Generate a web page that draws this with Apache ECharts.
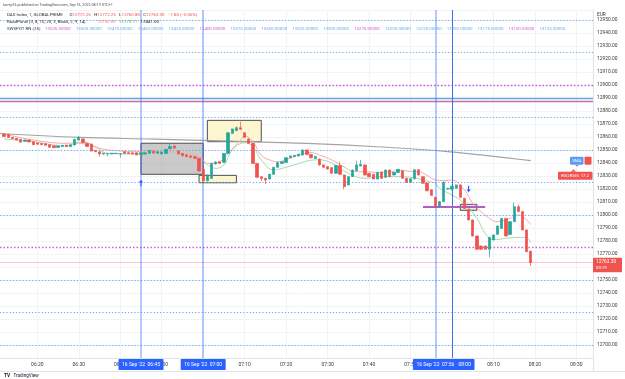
<!DOCTYPE html>
<html><head><meta charset="utf-8">
<script src="https://cdn.jsdelivr.net/npm/echarts@6/dist/echarts.min.js"></script>
<style>html,body{margin:0;padding:0;background:#fff}#c{width:625px;height:379px}</style>
</head><body><div id="c"></div><script>
// ---------- data ----------
const categoryStart = '06:11';
const categoryCount = 144;
const firstCandle = '06:12';
// one-minute candles [open, high, low, close] from 06:12 to 08:19
const candles = [
[12862.3,12863.0,12860.0,12860.3],[12862.0,12862.5,12859.5,12859.7],[12859.7,12860.0,12858.5,12858.7],[12859.0,12859.3,12857.5,12857.7],
[12858.2,12858.5,12855.8,12856.0],[12856.7,12858.0,12856.5,12857.7],[12857.7,12858.0,12856.0,12856.2],[12856.4,12856.6,12854.0,12854.1],
[12855.5,12855.8,12854.2,12854.5],[12855.0,12855.3,12853.8,12854.1],[12854.8,12855.0,12853.4,12853.6],[12854.1,12854.3,12851.8,12852.1],
[12853.3,12853.6,12851.6,12851.8],[12852.0,12853.4,12851.8,12853.1],[12852.6,12853.8,12852.4,12853.6],[12853.8,12854.1,12852.4,12852.6],
[12852.6,12854.3,12852.4,12854.1],[12853.8,12858.4,12853.6,12858.2],[12857.7,12860.8,12857.5,12859.7],[12858.5,12859.0,12855.4,12855.6],
[12855.1,12855.3,12852.4,12852.6],[12854.6,12854.8,12848.9,12849.2],[12849.7,12850.0,12848.4,12848.7],[12848.7,12849.0,12844.9,12846.9],
[12846.9,12847.7,12846.4,12847.6],[12846.9,12847.3,12845.2,12847.1],[12847.0,12847.8,12846.8,12847.5],[12847.3,12847.7,12847.1,12847.5],
[12846.8,12847.4,12844.1,12847.2],[12848.7,12849.0,12847.2,12847.4],[12848.0,12848.2,12847.1,12847.3],[12847.8,12848.0,12846.7,12847.0],
[12847.9,12848.2,12846.0,12846.2],[12846.5,12848.2,12846.2,12847.9],[12846.9,12848.3,12846.5,12847.9],[12847.4,12850.0,12847.0,12849.7],
[12849.2,12849.5,12847.3,12847.6],[12847.5,12848.9,12847.2,12848.6],[12847.0,12848.8,12846.7,12848.5],[12847.4,12850.9,12847.1,12850.5],
[12851.0,12855.1,12850.7,12852.6],[12853.1,12853.5,12851.2,12851.5],[12849.2,12849.5,12846.6,12846.9],[12847.4,12847.7,12845.3,12845.6],
[12846.2,12846.5,12844.6,12844.9],[12845.4,12845.7,12844.1,12844.4],[12844.9,12845.2,12843.3,12843.6],[12843.6,12843.9,12833.5,12833.8],
[12835.1,12835.4,12825.2,12826.4],[12826.4,12831.2,12825.8,12830.8],[12828.2,12840.0,12827.9,12839.7],[12839.2,12841.2,12838.9,12840.8],
[12841.0,12841.4,12839.4,12839.7],[12840.5,12847.7,12840.2,12847.4],[12847.4,12863.6,12847.1,12863.3],[12862.8,12866.5,12862.5,12866.2],
[12864.9,12868.0,12864.6,12867.2],[12867.2,12871.8,12865.6,12865.9],[12863.3,12863.6,12859.4,12859.7],[12858.5,12858.8,12854.8,12855.1],
[12855.1,12855.4,12839.4,12839.7],[12839.7,12840.0,12828.7,12829.0],[12829.5,12829.8,12826.0,12828.0],[12828.2,12828.5,12823.8,12826.9],
[12827.7,12831.6,12827.4,12831.3],[12831.3,12837.0,12831.0,12836.7],[12836.7,12840.6,12836.4,12840.3],[12839.7,12841.3,12839.4,12841.0],
[12840.3,12844.4,12840.0,12844.1],[12844.1,12845.7,12843.8,12845.4],[12844.9,12846.2,12844.6,12845.9],[12845.4,12847.0,12845.1,12846.7],
[12846.2,12850.3,12845.9,12850.0],[12850.0,12850.5,12846.0,12846.5],[12846.5,12847.0,12843.5,12844.0],[12843.5,12845.5,12843.0,12845.0],
[12843.0,12843.5,12838.0,12838.5],[12838.5,12839.0,12836.3,12836.7],[12837.2,12837.5,12835.0,12835.4],[12836.4,12837.0,12831.8,12832.1],
[12832.1,12838.5,12831.8,12838.0],[12838.0,12841.0,12831.0,12831.3],[12830.8,12831.2,12819.8,12821.8],[12823.1,12829.8,12822.8,12829.5],
[12829.5,12834.9,12829.2,12834.6],[12834.1,12841.8,12833.8,12838.5],[12837.7,12842.3,12837.4,12839.0],[12838.5,12838.8,12830.5,12830.8],
[12832.0,12832.3,12829.2,12829.5],[12831.3,12831.6,12827.4,12827.7],[12827.7,12832.9,12827.4,12832.6],[12833.1,12833.4,12827.9,12828.2],
[12829.0,12834.9,12828.7,12834.6],[12834.6,12834.9,12829.2,12829.5],[12830.8,12833.1,12830.5,12832.8],[12832.6,12835.4,12832.3,12835.1],
[12834.1,12834.4,12828.0,12828.2],[12828.2,12828.5,12824.6,12825.0],[12825.1,12828.2,12824.8,12827.9],[12827.8,12835.1,12827.5,12834.8],
[12834.8,12835.1,12830.5,12830.8],[12829.5,12829.8,12824.0,12824.4],[12824.6,12824.9,12818.3,12818.6],[12819.4,12819.7,12814.8,12815.1],
[12813.5,12813.8,12805.5,12806.6],[12806.6,12810.6,12806.0,12810.3],[12810.3,12826.0,12810.0,12825.0],[12820.0,12821.0,12819.5,12820.3],
[12820.0,12822.8,12819.0,12822.0],[12820.5,12823.6,12820.2,12823.1],[12823.1,12823.4,12813.3,12813.6],[12812.8,12813.1,12804.8,12805.1],
[12804.4,12804.7,12795.9,12796.2],[12796.2,12796.5,12783.5,12783.8],[12783.8,12784.1,12773.3,12773.6],[12776.2,12776.5,12773.3,12773.6],
[12776.2,12776.5,12773.3,12773.6],[12773.6,12783.1,12767.4,12782.8],[12780.8,12784.9,12780.5,12784.6],[12785.1,12791.8,12784.8,12791.5],
[12789.7,12797.7,12789.4,12797.4],[12797.4,12797.7,12783.5,12783.8],[12785.0,12795.2,12784.7,12794.9],[12794.9,12809.7,12794.6,12806.4],
[12806.4,12808.0,12802.3,12802.6],[12802.6,12803.0,12788.2,12788.5],[12788.5,12789.0,12771.5,12771.8],[12772.25,12772.25,12760.8,12763.3]
];
// moving averages read at sample times
const fastMA = [['06:12',12862.3],['06:19',12857.7],['06:27',12855.1],['06:31',12856.2],['06:35',12851.3],['06:39',12849.5],['06:45',12848.7],
['06:50',12849.3],['06:55',12847.4],['06:59',12844.9],['07:01',12839.7],['07:04',12841.0],['07:06',12847.4],['07:09',12857.7],['07:10',12861.0],
['07:12',12856.4],['07:14',12846.0],['07:16',12842.3],['07:18',12841.0],['07:21',12843.6],['07:23',12846.2],['07:26',12848.0],['07:28',12846.2],
['07:31',12842.3],['07:34',12837.0],['07:36',12833.5],['07:39',12833.3],['07:42',12832.8],['07:45',12833.0],['07:47',12834.5],['07:50',12833.5],
['07:52',12833.3],['07:54',12830.5],['07:56',12827.0],['07:58',12826.5],['08:00',12826.9],['08:03',12819.2],['08:05',12809.0],['08:08',12800.0],
['08:11',12794.9],['08:14',12797.4],['08:16',12800.0],['08:19',12792.6]];
const slowMA = [['06:12',12858.5],['06:19',12856.4],['06:27',12853.1],['06:30',12855.1],['06:34',12852.1],['06:37',12847.4],['06:45',12846.9],
['06:47',12848.5],['06:55',12847.4],['06:59',12844.9],['07:01',12838.5],['07:03',12835.9],['07:05',12838.5],['07:07',12850.0],['07:10',12855.6],
['07:12',12852.6],['07:14',12842.3],['07:17',12834.6],['07:19',12835.9],['07:22',12838.5],['07:25',12841.5],['07:28',12842.5],['07:31',12840.0],
['07:35',12832.1],['07:39',12828.2],['07:43',12829.5],['07:47',12829.5],['07:51',12828.5],['07:54',12826.0],['07:56',12824.4],['07:57',12820.5],
['08:00',12815.4],['08:03',12809.0],['08:06',12797.5],['08:08',12785.9],['08:10',12781.0],['08:13',12782.0],['08:16',12782.8],['08:18',12782.5],['08:19',12778.7]];
const longMA = [['06:11',12862.7],['06:30',12859.7],['06:48',12858.4],['07:07',12856.8],['07:25',12855.1],['07:42',12852.5],['07:59',12848.8],['08:19',12841.8]];
// levels
const rnLevels = [12950,12925,12900,12875,12850,12825,12800,12775,12750,12725,12700];
const rnHeader = [13525,13500,13475,13450,13425,13400,13375,13350,13325,13300,13275,13250,13225,13200,13175,13150,13125];
const roadLevels = [12890, 12887.7];
const lastPrice = 12763.3;
const vLines = ['06:45','07:00','07:56','08:00'];
const boxes = [
  {from:['06:45',12855.2], to:['07:00',12831.3], kind:'gray'},
  {from:['06:59',12830.5], to:['07:08',12824.8], kind:'yellow'},
  {from:['07:01',12872.8], to:['07:14',12856.4], kind:'yellow'},
  {from:['08:02',12808.2], to:['08:06',12803.6], kind:'beige'}
];
const purpleSeg = {from:'07:53', to:'08:08', value:12806.2};
const arrows = [{t:'06:45', v:12824.6, dir:'up'}, {t:'08:04', v:12820.0, dir:'down'}];
const header = {
  published: 'turnip16 published on TradingView.com, Sep 16, 2022 08:19 UTC+1',
  sym: 'DAX Index, 1, GLOBALPRIME',
  ohlc: [['O','12772.25'],['H','12772.25'],['L','12760.80'],['C','12763.30']],
  change: '\u22127.80 (\u22120.06%)',
  road: 'RoadPanel (3, 8, 10, 20, 3, Black, 2, 9, 14)',
  roadVals: ['12792.60','12770.11','12841.00'],
  rn: 'SWSPOT RN (25)'
};

// ---------- build ----------
function hhmm(m){return String(Math.floor(m/60)).padStart(2,'0')+':'+String(m%60).padStart(2,'0');}
const t0 = parseInt(categoryStart)*60 + parseInt(categoryStart.slice(3));
const times = Array.from({length:categoryCount}, (_,i)=>hhmm(t0+i));
const off = times.indexOf(firstCandle);
const candleData = times.map((t,i)=>{const r=candles[i-off]; return r?[r[0],r[3],r[2],r[1]]:'-';});

const FONT = 'Roboto, "Liberation Sans", sans-serif';
const BLUE_RN = '#6aa8f2', MAG_RN = '#c65ddc';
const isMajor = v => ((13525 - v) % 125 + 125) % 125 === 0;

const levelLines = rnLevels.map(v=>({yAxis:v, lineStyle: isMajor(v)
  ? {color:MAG_RN, width:1.3, type:[1.5,2]}
  : {color:BLUE_RN, width:1.2, type:[1.2,2]}}));
levelLines.push({yAxis:roadLevels[0], lineStyle:{color:'#6a9ff0', width:1.4, type:'solid'}});
levelLines.push({yAxis:roadLevels[1], lineStyle:{color:'#c0719f', width:1.4, type:'solid'}});
levelLines.push({yAxis:lastPrice, lineStyle:{color:'#f7c9c8', width:1, type:'solid'}});

const boxStyle = {
  gray:{color:'rgba(150,150,150,0.5)', borderColor:'#4d4d4d', borderWidth:1},
  yellow:{color:'#fdf5cf', borderColor:'#4d4d4d', borderWidth:1},
  beige:{color:'rgba(205,195,170,0.45)', borderColor:'#4d4d4d', borderWidth:1}
};
const areaData = boxes.map(b=>[{coord:b.from, itemStyle:boxStyle[b.kind]},{coord:b.to}]);

const vLineData = vLines.map(t=>({xAxis:t, lineStyle: t==='08:00'
  ? {color:'#3d6de8', width:1, type:'solid'}
  : {color:'rgba(41,98,255,0.34)', width:2, type:'solid'}}));

const upPath = 'path://M5,0 L10,5 L6.3,5 L6.3,12 L3.7,12 L3.7,5 L0,5 Z';
const downPath = 'path://M3.7,0 L6.3,0 L6.3,7 L10,7 L5,12 L0,7 L3.7,7 Z';

const tenMin = (i, v) => typeof v === 'string' ? v.endsWith('0') : times[i].endsWith('0');

const option = {
  animation:false,
  backgroundColor:'#ffffff',
  grid:{left:0, right:32, top:10, bottom:21, containLabel:false},
  xAxis:{type:'category', data:times, boundaryGap:false,
    axisLine:{show:true, lineStyle:{color:'#e0e3eb'}}, axisTick:{show:false},
    axisLabel:{interval:tenMin, fontSize:5, color:'#3a3a3a', margin:4, fontFamily:FONT},
    splitLine:{show:true, interval:tenMin, lineStyle:{color:'#f1f3f7', width:1}}},
  yAxis:{type:'value', position:'right', min:12690, max:12957.69, interval:10, scale:true,
    axisLine:{show:true, lineStyle:{color:'#e0e3eb'}}, axisTick:{show:false},
    axisLabel:{fontSize:4.9, color:'#3a3a3a', margin:4, fontFamily:FONT,
      formatter:v => (Math.abs(v - Math.round(v/10)*10) < 1e-6 && v >= 12700) ? v.toFixed(2) : ''},
    splitLine:{show:true, lineStyle:{color:'#f1f3f7', width:1}}},
  series:[
    {type:'line', name:'boxes', data:[], z:1, silent:true,
      markArea:{silent:true, data:areaData}},
    {type:'line', name:'levels', data:[], z:2, silent:true,
      markLine:{silent:true, symbol:'none', label:{show:false}, animation:false,
        data: levelLines.concat(vLineData).concat([[
          {coord:[purpleSeg.from, purpleSeg.value], lineStyle:{color:'#b15cc8', width:2, type:'solid'}},
          {coord:[purpleSeg.to, purpleSeg.value]}]])}},
    {type:'line', name:'long', data:longMA, smooth:0.4, showSymbol:false, z:3,
      lineStyle:{color:'#a4a4a4', width:1.2}},
    {type:'line', name:'slow', data:slowMA, smooth:0.4, showSymbol:false, z:4,
      lineStyle:{color:'#a9d9ab', width:1}},
    {type:'line', name:'fast', data:fastMA, smooth:0.4, showSymbol:false, z:4,
      lineStyle:{color:'#f6abaa', width:1}},
    {type:'candlestick', name:'DAX', data:candleData, z:5, barWidth:2.8,
      itemStyle:{color:'#26a69a', color0:'#ef5350', borderColor:'#26a69a', borderColor0:'#ef5350', borderWidth:0.7},
      markPoint:{silent:true, label:{show:false},
        data: arrows.map(a=>({coord:[a.t,a.v], symbol: a.dir==='up'?upPath:downPath, symbolSize:[4.5,6.5],
          itemStyle:{color:'#2962ff'}}))}}
  ]
};

const chart = echarts.init(document.getElementById('c'), null, {renderer:'canvas'});
chart.setOption(option);

// ---------- annotations (positions from the chart scales) ----------
const px = (t, v) => chart.convertToPixel({gridIndex:0}, [t, v]);
const g = [];
function txt(x, y, text, fill, size, align, z){
  g.push({type:'text', x:x, y:y, z:z||100, silent:true,
    style:{text:text, fill:fill, font: size+'px '+FONT, textAlign:align||'left', textVerticalAlign:'middle'}});
}
function rich(x, y, text, richStyles, z){
  g.push({type:'text', x:x, y:y, z:z||100, silent:true,
    style:{text:text, rich:richStyles, textAlign:'left', textVerticalAlign:'middle'}});
}
function rect(x, y, w, h, fill, z){
  g.push({type:'rect', z:z||90, silent:true, shape:{x:x, y:y, width:w, height:h, r:0.8}, style:{fill:fill}});
}
const HF = 4.4;
const rs = {
  d:{fill:'#2a2e39', font: HF+'px '+FONT},
  r:{fill:'#ef5350', font: HF+'px '+FONT},
  p:{fill:'#f28482', font: HF+'px '+FONT},
  g:{fill:'#4caf50', font: HF+'px '+FONT},
  k:{fill:'#1e1e1e', font: HF+'px '+FONT},
  b:{fill:BLUE_RN, font: HF+'px '+FONT},
  m:{fill:MAG_RN, font: HF+'px '+FONT}
};
// header
txt(3, 5, header.published, '#4a4a4a', 3.7);
let line1 = '{d|' + header.sym + '}  ' + header.ohlc.map(p=>'{d|'+p[0]+'}{r|'+p[1]+'}').join(' ') + ' {r|' + header.change + '}';
rich(7, 15, line1, rs);
txt(7, 22.3, header.road, '#2a2e39', HF);
const roadKeys = ['p','g','k'];
rich(97, 22.3, header.roadVals.map((v,i)=>'{'+roadKeys[i]+'|'+v+'}').join(' '), rs);
txt(7, 29, header.rn, '#2a2e39', HF);
rnHeader.forEach((v,i)=>{
  const last = i === rnHeader.length-1;
  txt(45 + i*30.9, 29, v.toFixed(5) + (last ? '...' : ''), isMajor(v) ? MAG_RN : BLUE_RN, HF);
});
// EUR
txt(597, 14.5, 'EUR', '#3a3a3a', 4.8);
// bottom time tags (08:00 first so 07:56 lies over it)
const tagOrder = ['06:45','07:00','08:00','07:56'];
tagOrder.forEach((t,k)=>{
  const x = px(t, 12800)[0];
  rect(x-22.5, 359, 45, 11, '#2962ff', 110 + k*2);
  txt(x, 364.5, "16 Sep '22  " + t, '#ffffff', 5, 'center', 111 + k*2);
});
// SMA / RSI tags on price scale
const smaY = px(longMA[longMA.length-1][0], longMA[longMA.length-1][1])[1];
rect(570, smaY-4, 13.5, 8, '#5d9cf5', 90);
txt(576.7, smaY, 'SMA', '#ffffff', 4.3, 'center', 91);
rect(584.5, smaY-4, 7, 8, '#ef5350', 90);
g.push({type:'polygon', z:90, silent:true, shape:{points:[[575,smaY+4],[579,smaY+4],[577,smaY+6]]}, style:{fill:'#5d9cf5'}});
const rsiY = px('08:19', 12830.2)[1];
rect(558, rsiY-4, 34.5, 8, '#ef5350', 90);
g.push({type:'polygon', z:90, silent:true, shape:{points:[[571,rsiY-4],[576,rsiY-4],[573.5,rsiY-6.5]]}, style:{fill:'#ef5350'}});
txt(575, rsiY, 'RSI2RSI5: 17.2', '#ffffff', 4.3, 'center', 91);
// last price tag
const lpY = px('08:19', lastPrice)[1];
rect(593, lpY-5, 29, 14.5, '#ef5350', 90);
txt(596, lpY-0.5, lastPrice.toFixed(2), '#ffffff', 4.8, 'left', 91);
txt(596, lpY+5.2, '00:19', '#ffffff', 4.3, 'left', 91);
// frame lines
g.push({type:'line', z:80, silent:true, shape:{x1:593.5, y1:10, x2:593.5, y2:371}, style:{stroke:'#e0e3eb', lineWidth:1}});
g.push({type:'line', z:80, silent:true, shape:{x1:0, y1:371.5, x2:625, y2:371.5}, style:{stroke:'#e0e3eb', lineWidth:1}});
// TradingView logo
rich(4, 375.5, '{t|TV} {n|TradingView}', {t:{fill:'#131722', font:'bold 4.8px '+FONT}, n:{fill:'#131722', font:'4.6px '+FONT}});
chart.setOption({graphic:g});
</script></body></html>
